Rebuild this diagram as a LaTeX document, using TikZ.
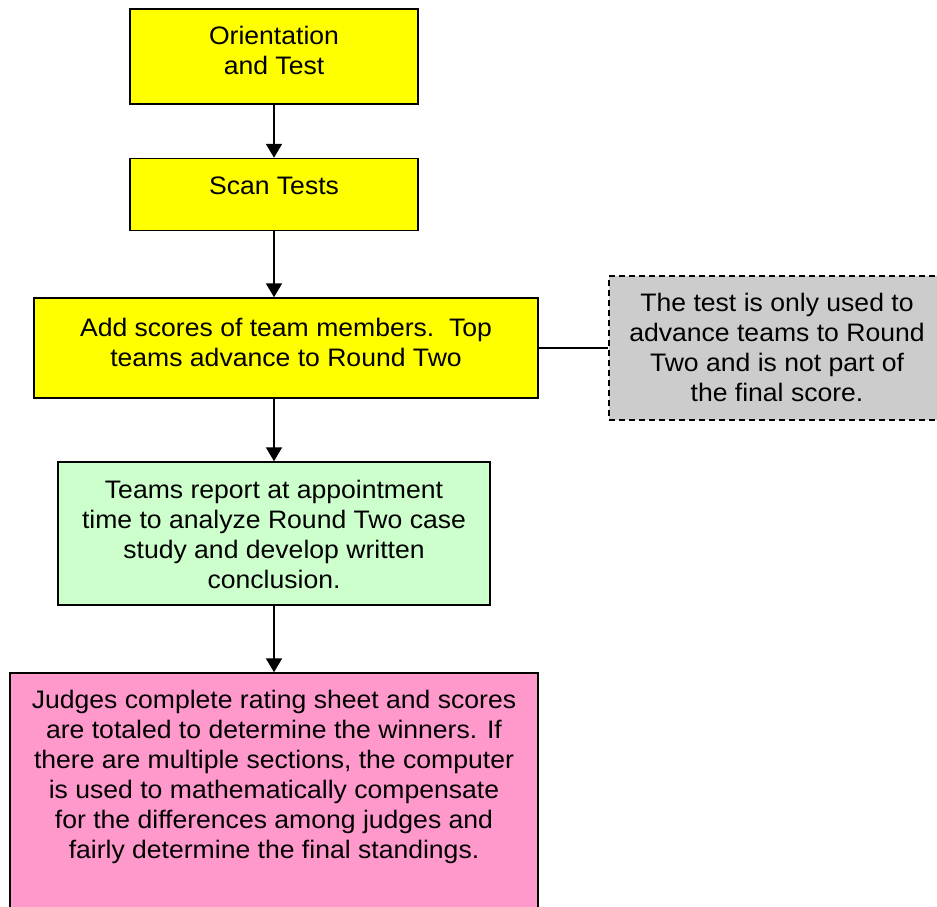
\documentclass[tikz,border=0pt]{standalone}
\usepackage{fontspec}
\setmainfont[FakeStretch=1.05]{Liberation Sans}
\usetikzlibrary{arrows.meta}
\definecolor{byellow}{HTML}{FFFF00}
\definecolor{bgreen}{HTML}{CCFFCC}
\definecolor{bpink}{HTML}{FF99CC}
\definecolor{bgray}{HTML}{CCCCCC}
\tikzset{
  boxshape/.style={draw=black, line width=1.5pt, rectangle, inner sep=0pt},
  boxtext/.style={anchor=north, align=center, inner sep=0pt, font=\fontsize{25.3}{30}\selectfont},
  flowarrow/.style={line width=2pt, -{Triangle[length=14pt,width=16pt]}},
  noteline/.style={line width=1.3pt},
}
\begin{document}
\begin{tikzpicture}[x=1pt,y=-1pt]
\useasboundingbox (0,0) rectangle (937,907);
\clip (0,0) rectangle (937,907);
\fill[white] (0,0) rectangle (937,907);
% boxes
\node[boxshape, fill=byellow, minimum width=288pt, minimum height=95pt] (b1) at (274,56.5) {};
\node[boxshape, fill=byellow, minimum width=288pt, minimum height=72pt] (b2) at (274,194.5) {};
\node[boxshape, fill=byellow, minimum width=504pt, minimum height=100pt] (b3) at (286,348) {};
\node[boxshape, fill=bgray, dashed, dash pattern=on 6pt off 4pt, minimum width=336pt, minimum height=144pt] (note) at (777,348) {};
\node[boxshape, fill=bgreen, minimum width=432pt, minimum height=143pt] (b4) at (274,533.5) {};
\node[boxshape, fill=bpink, minimum width=528pt, minimum height=260pt] (b5) at (274,803) {};
% texts
\node[boxtext] (t1) at ([yshift=-18pt]b1.north) {Orientation\\and Test};
\node[boxtext] (t2) at ([yshift=-19pt]b2.north) {Scan Tests};
\node[boxtext] (t3) at ([yshift=-20.5pt]b3.north) {Add scores of team members.\ \ Top\\teams advance to Round Two};
\node[boxtext] (tn) at ([yshift=-18pt]note.north) {The test is only used to\\advance teams to Round\\Two and is not part of\\the final score.};
\node[boxtext] (t4) at ([yshift=-19pt]b4.north) {Teams report at appointment\\time to analyze Round Two case\\study and develop written\\conclusion.};
\node[boxtext] (t5) at ([yshift=-18pt]b5.north) {Judges complete rating sheet and scores\\are totaled to determine the winners. If\\there are multiple sections, the computer\\is used to mathematically compensate\\for the differences among judges and\\fairly determine the final standings.};
% connectors
\draw[flowarrow] (b1.south) -- (b2.north);
\draw[flowarrow] (b2.south) -- (b2.south |- b3.north);
\draw[flowarrow] (b2.south |- b3.south) -- (b4.north);
\draw[flowarrow] (b4.south) -- (b5.north);
\draw[noteline] (b3.east) -- (note.west);
\end{tikzpicture}
\end{document}
